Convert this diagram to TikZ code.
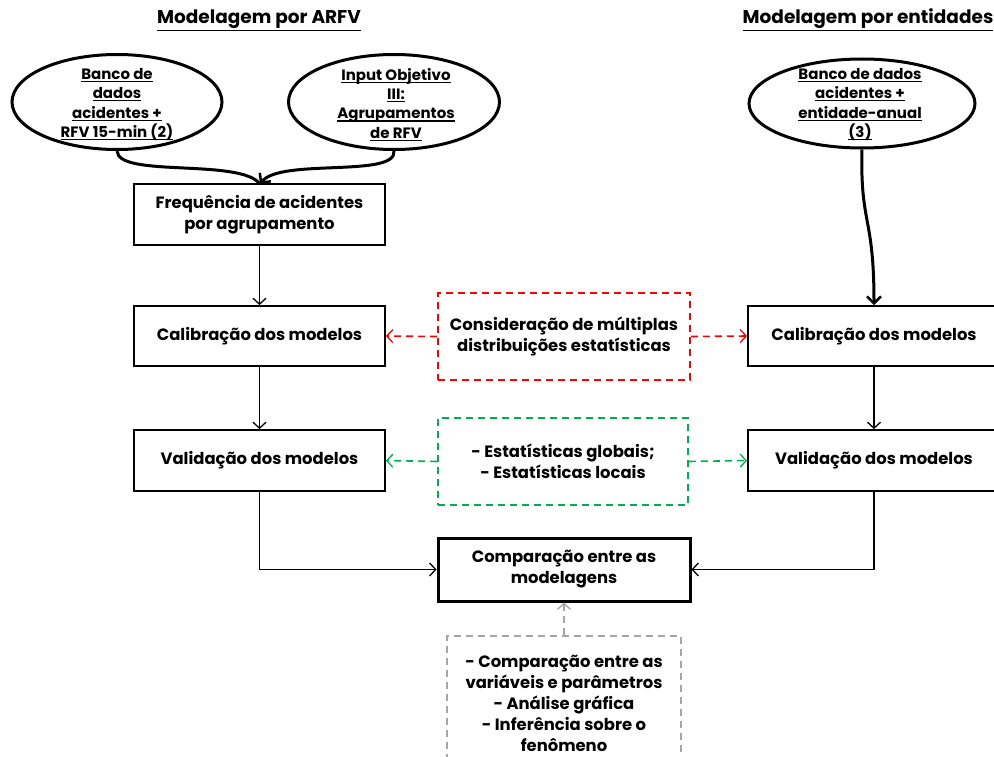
\documentclass[tikz,border=0pt]{standalone}
\usepackage{fontspec}
\setmainfont{Poppins}
\usetikzlibrary{arrows.meta,shapes.geometric}
\definecolor{dashred}{RGB}{255,0,0}
\definecolor{dashgreen}{RGB}{0,176,80}
\definecolor{dashgray}{RGB}{166,166,166}
% underline drawn a fixed distance below the baseline
\newcommand{\ulline}[1]{\setbox0=\hbox{#1}\leavevmode\rlap{\rule[-2.6bp]{\wd0}{1.1bp}}\box0}
\begin{document}
\begin{tikzpicture}[x=1bp,y=-1bp,
  font=\bfseries\fontsize{16.4bp}{21bp}\selectfont,
  box/.style={draw,line width=1.8bp,minimum width=251bp,minimum height=61bp,align=center,inner sep=2bp},
  notebox/.style={draw,line width=1.8bp,dash pattern=on 7bp off 5bp,align=center,inner sep=2bp},
  source/.style={draw,ellipse,line width=3bp,inner sep=0pt},
  sourcetext/.style={align=center,inner sep=0pt,font=\bfseries\fontsize{15bp}{19.4bp}\selectfont},
  title/.style={font=\bfseries\fontsize{18.5bp}{21bp}\selectfont},
  tip/.style={-{Straight Barb[length=6bp,width=13bp,line width=1.3bp]}},
  flow/.style={tip,line width=1.3bp},
  thickflow/.style={-{Straight Barb[length=7bp,width=14bp,line width=2.5bp]},line width=3bp},
  note/.style={tip,line width=1.6bp,dash pattern=on 7bp off 5bp}
]
\useasboundingbox (0,0) rectangle (994,757);
\clip (0,0) rectangle (994,757);

% column titles
\node[title] (tA) at (259,20) {\underline{Modelagem por ARFV}};
\node[title] (tB) at (868,20) {\underline{Modelagem por entidades}};

% data sources
\node[source,minimum width=210bp,minimum height=95bp] (srcA) at (117,102) {};
\node[sourcetext] (srcAtxt) at (117,104.5)
  {\ulline{Banco de}\\\ulline{dados}\\\ulline{acidentes +}\\\ulline{RFV 15-min (2)}};
\node[source,minimum width=211bp,minimum height=95bp] (srcB) at (394,102) {};
\node[sourcetext] (srcBtxt) at (396,104.5)
  {\ulline{Input Objetivo}\\\ulline{III:}\\\ulline{Agrupamentos}\\\ulline{de RFV}};
\node[source,minimum width=226bp,minimum height=89bp] (srcC) at (862,103.5) {};
\node[sourcetext] (srcCtxt) at (860,104.5)
  {\ulline{Banco de dados}\\\ulline{acidentes +}\\\ulline{entidade-anual}\\\ulline{(3)}};

% ARFV column
\node[box] (freq) at (259.5,214.5) {Frequência de acidentes\\por agrupamento};
\node[box,minimum height=60bp] (calL) at (259.5,336) {Calibração dos modelos};
\node[box] (valL) at (259.5,460.5) {Validação dos modelos};

% entity column
\node[box,minimum width=252bp,minimum height=60bp] (calR) at (874,336) {Calibração dos modelos};
\node[box,minimum width=252bp] (valR) at (874,460.5) {Validação dos modelos};

% shared notes and comparison
\node[notebox,draw=dashred,minimum width=252bp,minimum height=87bp] (distr) at (564,336.5)
  {Consideração de múltiplas\\distribuições estatísticas};
\node[notebox,draw=dashgreen,minimum width=250bp,minimum height=87bp] (stats) at (563,461.5)
  {- Estatísticas globais;\\- Estatísticas locais};
\node[box,line width=3bp,minimum width=252bp,minimum height=63bp] (comp) at (564,569.5)
  {Comparação entre as\\modelagens};
\node[notebox,draw=dashgray,minimum width=234bp,minimum height=134bp] (crit) at (564,703)
  {- Comparação entre as\\variáveis e parâmetros\\- Análise gráfica\\- Inferência sobre o\\fenômeno};

% merging the two inputs
\coordinate (mergeTop) at (260,184);
\draw[line width=3bp] (srcA.south) .. controls (118,178) and (240,158) .. (mergeTop);
\draw[thickflow] (srcB.south) .. controls (397,178) and (280,158) .. (mergeTop);
\draw[thickflow] (srcC.south) .. controls (860,225) and (874,215) .. (calR.north);

% main flow
\draw[flow] (freq) -- (calL);
\draw[flow] (calL) -- (valL);
\draw[flow] (calR) -- (valR);
\draw[flow] (valL.south) |- (comp.west);
\draw[flow] (valR.south) |- (comp.east);

% dashed links
\draw[note,draw=dashred] (distr.west) -- (calL.east);
\draw[note,draw=dashred] (distr.east) -- (calR.west);
\draw[note,draw=dashgreen] (stats.west) -- (valL.east);
\draw[note,draw=dashgreen] (stats.east) -- (valR.west);
\draw[note,draw=dashgray] (crit.north) -- (comp.south);
\end{tikzpicture}
\end{document}
